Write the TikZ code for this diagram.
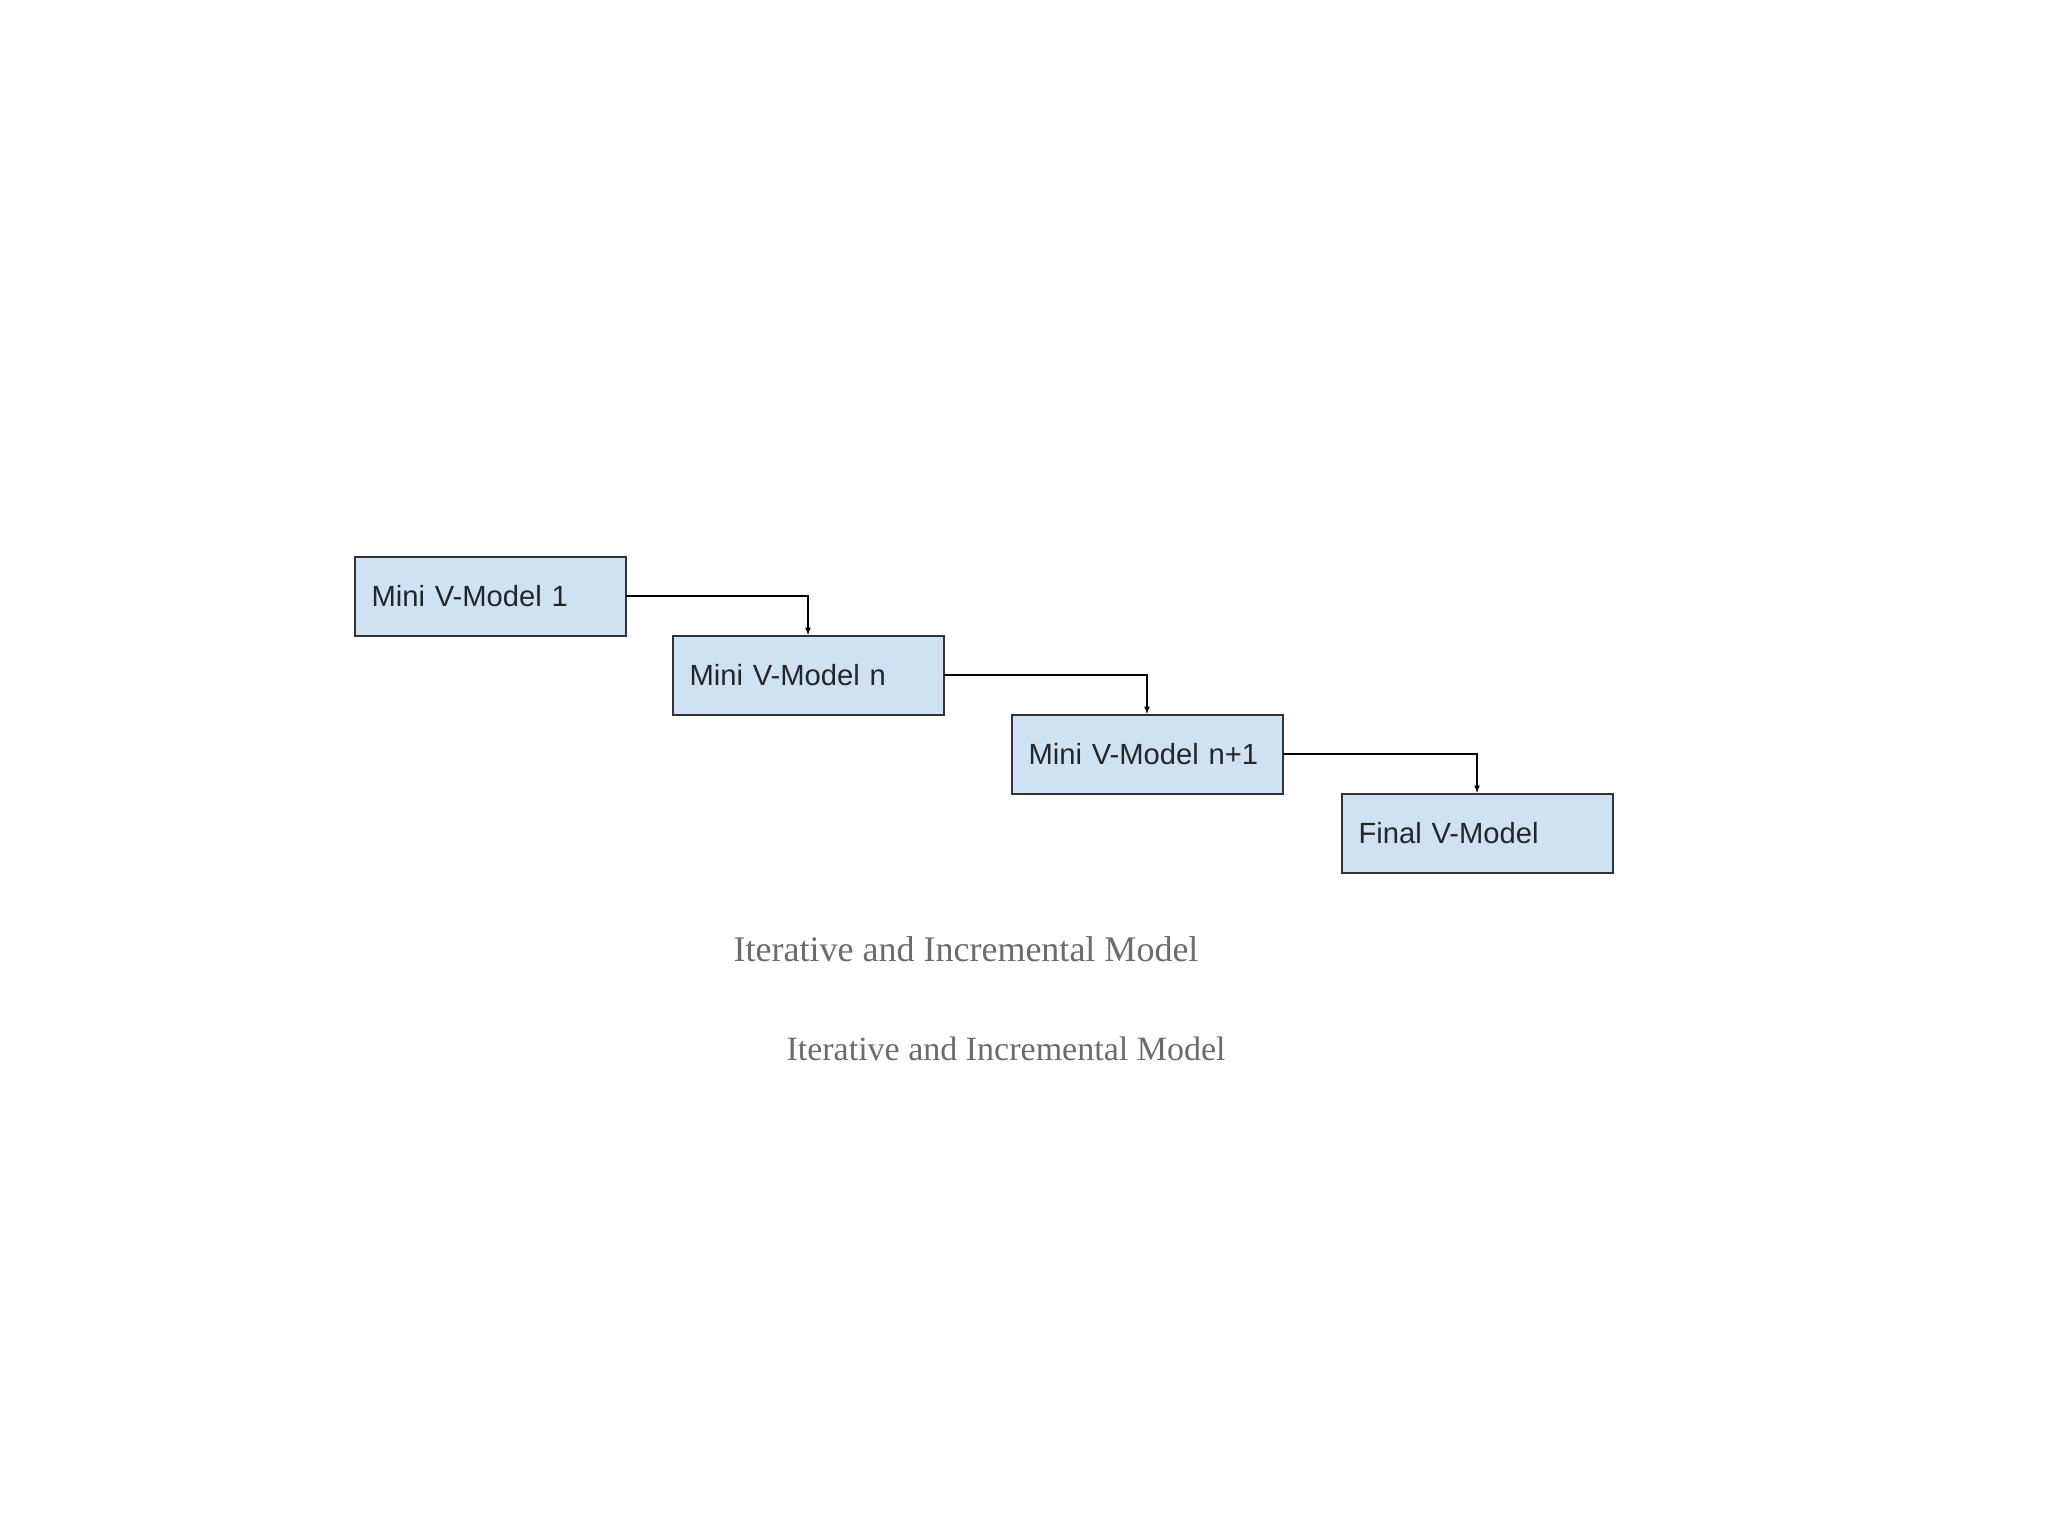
\documentclass[tikz,border=0pt]{standalone}
\usepackage{fontspec}
\setmainfont{Liberation Serif}
\newfontfamily\boxfont{Liberation Sans}
\usepackage{xcolor}
\usepackage{tikz}
\usetikzlibrary{arrows.meta,positioning}

\definecolor{boxfill}{HTML}{CFE2F3}
\definecolor{boxline}{HTML}{333333}
\definecolor{capgray}{HTML}{6B6B6B}

\begin{document}
\begin{tikzpicture}[
    vbox/.style={rectangle, draw=boxline, fill=boxfill, line width=1pt, outer sep=0pt, inner xsep=8.5pt, text width=118.5pt, align=left, minimum height=39.5pt, text=black!85, font=\boxfont\fontsize{14.6}{16}\selectfont},
    arr/.style={-{Latex[length=4pt,width=3pt]}, line width=0.8pt, draw=black},
    captext/.style={text=capgray, inner sep=0pt}
]
    \useasboundingbox (0pt,0pt) rectangle (1024pt,-768pt);

    \node [vbox] (m1) at (245pt,-298pt) {Mini V-Model 1};
    \node [vbox, below right=0pt and 23.5pt of m1] (mn) {Mini V-Model n};
    \node [vbox, below right=0pt and 34pt of mn] (mn1) {Mini V-Model n+1};
    \node [vbox, below right=0pt and 29.5pt of mn1] (fin) {Final V-Model};

    \draw [arr] (m1.east) -| (mn.north);
    \draw [arr] (mn.east) -| (mn1.north);
    \draw [arr] (mn1.east) -| (fin.north);

    \node [captext, font=\fontsize{18}{21}\selectfont] (cap1) at (483pt,-474.5pt) {Iterative and Incremental Model};
    \node [captext, font=\fontsize{17}{20}\selectfont] (cap2) at (503pt,-524.5pt) {Iterative and Incremental Model};
\end{tikzpicture}
\end{document}
